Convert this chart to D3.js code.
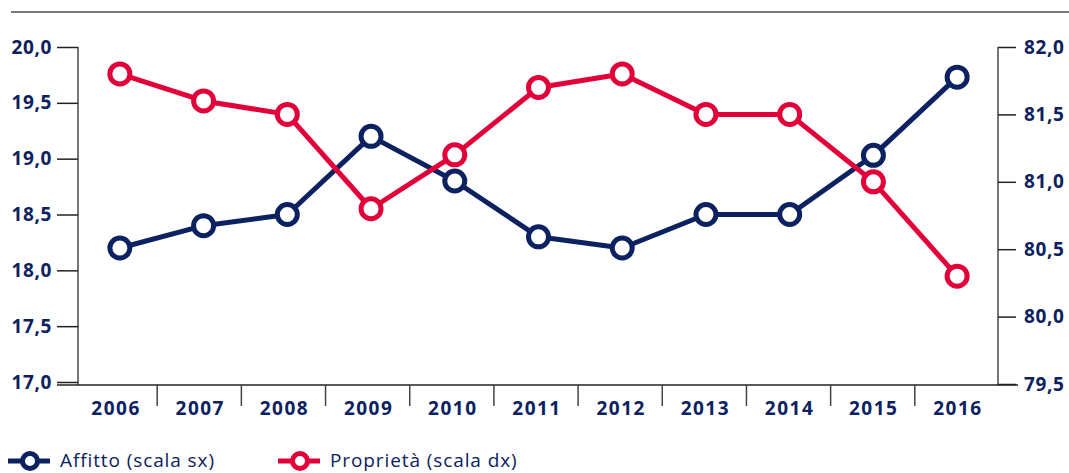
<!DOCTYPE html>
<html>
<head>
<meta charset="utf-8">
<script src="https://cdn.jsdelivr.net/npm/d3@7"></script>
<style>
  html, body { margin: 0; padding: 0; background: #fff; }
  svg { display: block; font-family: "Open Sans", Lato, sans-serif; }
</style>
</head>
<body>
<div id="chart"></div>
<script>
// Data
const years = ['2006', '2007', '2008', '2009', '2010', '2011', '2012', '2013', '2014', '2015', '2016'];
const affitto = [18.2, 18.4, 18.5, 19.2, 18.8, 18.3, 18.2, 18.5, 18.5, 19.03, 19.73];
const proprieta = [81.8, 81.6, 81.5, 80.8, 81.2, 81.7, 81.8, 81.5, 81.5, 81.0, 80.3];
const leftTicks = [17.0, 17.5, 18.0, 18.5, 19.0, 19.5, 20.0];
const rightTicks = [79.5, 80.0, 80.5, 81.0, 81.5, 82.0];
const seriesNames = ['Affitto (scala sx)', 'Proprietà (scala dx)'];

const width = 1069, height = 473;
const navy = '#0b2160';
const red = '#e2003a';
const fontFamily = '"Open Sans", Lato, sans-serif';
const fmt = d => d3.format('.1f')(d).replace('.', ',');

const svg = d3.select('#chart').append('svg')
    .attr('width', width)
    .attr('height', height);

// Scales
const xBand = d3.scaleBand().domain(years).range([73, 999]);
const xPoint = d3.scalePoint().domain(years).range([78, 999]).padding(0.5);
const yLeft = d3.scaleLinear().domain([17, 20]).range([382, 47]);
const yRight = d3.scaleLinear().domain([79.5, 82]).range([384, 47]);

// Top rule
svg.append('line')
    .attr('x1', 11).attr('x2', width)
    .attr('y1', 12).attr('y2', 12)
    .attr('stroke', '#7a7a7a').attr('stroke-width', 2);

function styleAxis(axis) {
    axis.select('.domain').attr('stroke', '#777').attr('stroke-width', 2).attr('d', 'M0,47V385');
    axis.selectAll('.tick line').attr('stroke', '#222').attr('stroke-width', 1.5);
    axis.selectAll('.tick text')
        .attr('fill', navy).attr('font-size', 19).attr('font-weight', 700)
        .attr('font-family', fontFamily)
        .attr('letter-spacing', 0.6);
}

// Left axis
const leftAxis = svg.append('g')
    .attr('transform', 'translate(78,0)')
    .call(d3.axisLeft(yLeft).tickValues(leftTicks).tickFormat(fmt).tickSize(21).tickPadding(5));
styleAxis(leftAxis);

// Right axis
const rightAxis = svg.append('g')
    .attr('transform', 'translate(998,0)')
    .call(d3.axisRight(yRight).tickValues(rightTicks).tickFormat(fmt).tickSize(18).tickPadding(8));
styleAxis(rightAxis);

// Bottom axis: baseline, category separators, labels
svg.append('line')
    .attr('x1', 57).attr('x2', 1018)
    .attr('y1', 385).attr('y2', 385)
    .attr('stroke', '#222').attr('stroke-width', 1.5);

svg.append('g').selectAll('line')
    .data(years.slice(1))
    .join('line')
    .attr('x1', d => xBand(d)).attr('x2', d => xBand(d))
    .attr('y1', 385).attr('y2', 406)
    .attr('stroke', '#444').attr('stroke-width', 1.5);

svg.append('g').selectAll('text')
    .data(years)
    .join('text')
    .attr('x', d => xBand(d) + xBand.bandwidth() / 2 + 1)
    .attr('y', 415)
    .attr('text-anchor', 'middle')
    .attr('fill', navy).attr('font-size', 19).attr('font-weight', 700)
    .attr('letter-spacing', 1.5)
    .text(d => d);

// Series
const series = [
    { name: seriesNames[0], values: affitto, y: yLeft, color: navy },
    { name: seriesNames[1], values: proprieta, y: yRight, color: red }
];

series.forEach(s => {
    const line = d3.line()
        .x((d, i) => xPoint(years[i]))
        .y(d => s.y(d));

    svg.append('path')
        .datum(s.values)
        .attr('fill', 'none')
        .attr('stroke', s.color)
        .attr('stroke-width', 5)
        .attr('stroke-linejoin', 'round')
        .attr('d', line);

    svg.append('g').selectAll('circle')
        .data(s.values)
        .join('circle')
        .attr('cx', (d, i) => xPoint(years[i]))
        .attr('cy', d => s.y(d))
        .attr('r', 10)
        .attr('fill', '#fff')
        .attr('stroke', s.color)
        .attr('stroke-width', 5);
});

// Legend
const legend = svg.append('g').attr('transform', 'translate(0,461)');
const legendX = [8, 278];
series.forEach((s, i) => {
    const g = legend.append('g').attr('transform', `translate(${legendX[i]},0)`);
    g.append('line')
        .attr('x1', 0).attr('x2', 42)
        .attr('stroke', s.color).attr('stroke-width', 5);
    g.append('circle')
        .attr('cx', 22).attr('r', 7.5)
        .attr('fill', '#fff')
        .attr('stroke', s.color).attr('stroke-width', 5);
    g.append('text')
        .attr('x', 52).attr('y', 6)
        .attr('fill', navy).attr('font-size', 19)
        .attr('letter-spacing', 0.9)
        .text(s.name);
});
</script>
</body>
</html>
